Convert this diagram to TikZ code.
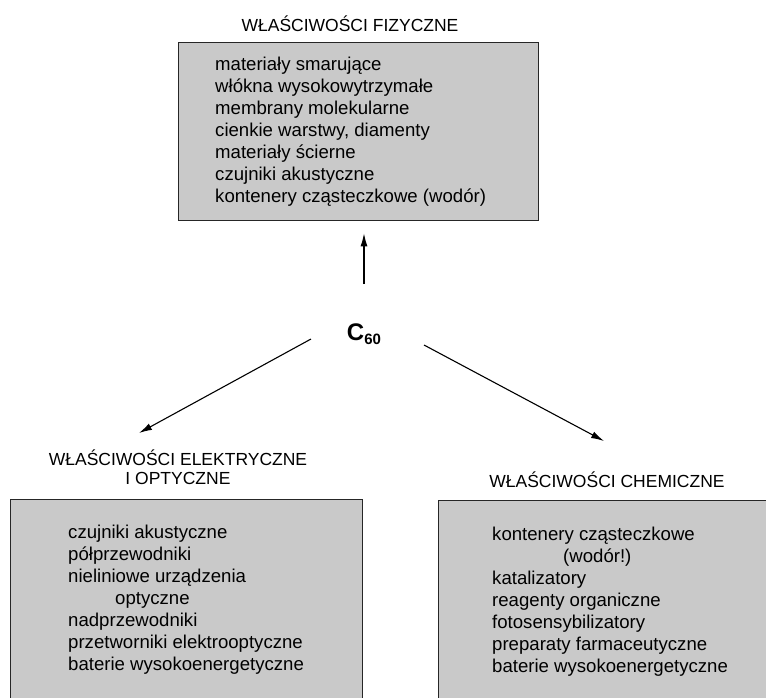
\documentclass[tikz,border=0pt]{standalone}
\usepackage{fontspec}
\setmainfont{Liberation Sans}
\usetikzlibrary{arrows.meta, positioning}

\begin{document}
\begin{tikzpicture}[x=1pt, y=-1pt,
		>={Latex[length=13pt,width=7pt]},   %Pfeilspitzen
		kasten/.style={draw=black!85, line width=1.4pt, fill=black!21, inner sep=0pt, anchor=north west},
		titel/.style={font=\fontsize{17.5}{19}\selectfont, align=center, inner sep=0pt, anchor=base},
		liste/.style={font=\fontsize{18.6}{22}\selectfont, align=left, inner sep=0pt, anchor=base west},
		pfeil/.style={->, line width=1.1pt}]
		% Bildbereich
		\useasboundingbox (0,0) rectangle (766,697);
		\clip (0,0) rectangle (766,697);
		% Kaesten
		\node[kasten, minimum width=360, minimum height=178] (fiz) at (178,42) {};
		\node[kasten, minimum width=352, minimum height=250] (elek) at (10,499) {};
		\node[kasten, minimum width=400, minimum height=250] (chem) at (438,500) {};
		% Ueberschriften (base = letzte Zeile)
		\node[titel] (tfiz) at (350,31) {WŁAŚCIWOŚCI FIZYCZNE};
		\node[titel] (telek) at (178,484) {WŁAŚCIWOŚCI ELEKTRYCZNE\\I OPTYCZNE};
		\node[titel] (tchem) at (607,487) {WŁAŚCIWOŚCI CHEMICZNE};
		% Listen
		\node[liste] (lfiz) at (215,202) {materiały smarujące\\włókna wysokowytrzymałe\\membrany molekularne\\cienkie warstwy, diamenty\\materiały ścierne\\czujniki akustyczne\\kontenery cząsteczkowe (wodór)};
		\node[liste] (lelek) at (68,670) {czujniki akustyczne\\półprzewodniki\\nieliniowe urządzenia\\\hspace*{47pt}optyczne\\nadprzewodniki\\przetworniki elektrooptyczne\\baterie wysokoenergetyczne};
		\node[liste] (lchem) at (492,672) {kontenery cząsteczkowe\\\hspace*{71pt}(wodór!)\\katalizatory\\reagenty organiczne\\fotosensybilizatory\\preparaty farmaceutyczne\\baterie wysokoenergetyczne};
		% Mitte
		\node[inner sep=0pt, anchor=base, font=\fontsize{24}{24}\selectfont\bfseries] (c60) at (364,340) {C\raisebox{-4pt}{\fontsize{15}{15}\selectfont 60}};
		% Pfeile
		\draw[pfeil, shorten <=39pt, shorten >=12pt] (c60.north) -- (c60.north |- fiz.south);
		\draw[pfeil] ([shift={(-53,-1)}]c60.base) -- ([shift={(129,-66)}]elek.north west);
		\draw[pfeil] ([shift={(60,5)}]c60.base) -- ([shift={(166,-59)}]chem.north west);
\end{tikzpicture}
\end{document}
